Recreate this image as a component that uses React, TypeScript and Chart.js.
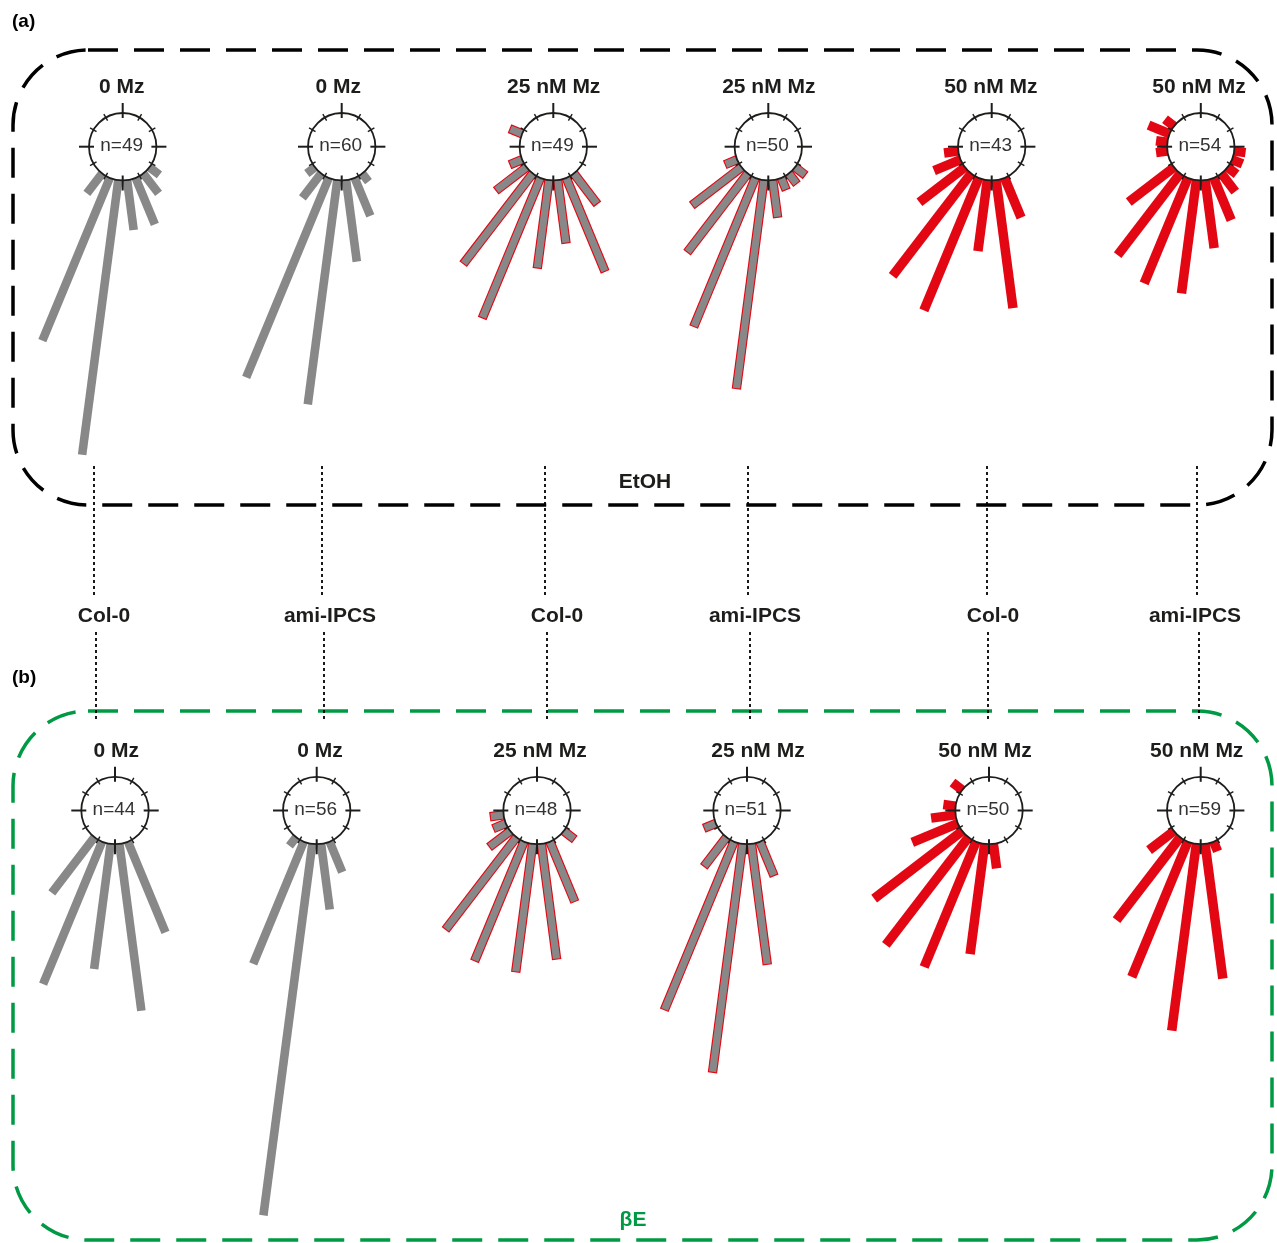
import React, { useEffect, useRef } from "react";
import { Chart, registerables } from "chart.js";

Chart.register(...registerables);

const W = 1277;
const H = 1243;

// ---------------- data ----------------
const panelTitles = ["0 Mz", "0 Mz", "25 nM Mz", "25 nM Mz", "50 nM Mz", "50 nM Mz"];
const genotypeLabels = ["Col-0", "ami-IPCS", "Col-0", "ami-IPCS", "Col-0", "ami-IPCS"];
const treatmentLabels = ["EtOH", "βE"];
const panelLetters = ["(a)", "(b)"];
const nEtOH = [49, 60, 49, 50, 43, 54];
const nBetaE = [44, 56, 48, 51, 50, 59];

// bin centres in degrees from the gravity vector (0 = straight down, negative = left, positive = right)
// EtOH row
const anglesE1 = [-37.5, -22.5, -7.5, 7.5, 22.5, 37.5, 52.5];
const countsE1 = [2, 14, 22, 4, 4, 2, 1];
const anglesE2 = [-52.5, -37.5, -22.5, -7.5, 7.5, 22.5, 37.5];
const countsE2 = [1, 3, 21, 22, 8, 4, 1];
const anglesE3 = [-112.5, -67.5, -52.5, -37.5, -22.5, -7.5, 7.5, 22.5, 37.5];
const countsE3 = [1, 1, 3, 9, 12, 7, 5, 8, 3];
const anglesE4 = [-67.5, -52.5, -37.5, -22.5, -7.5, 7.5, 22.5, 37.5, 52.5];
const countsE4 = [1, 5, 8, 13, 17, 3, 1, 1, 1];
const anglesE5 = [-82.5, -67.5, -52.5, -37.5, -22.5, -7.5, 7.5, 22.5];
const countsE5 = [1, 2, 4, 9, 10, 5, 9, 3];
const anglesE6 = [-127.5, -112.5, -97.5, -82.5, -52.5, -37.5, -22.5, -7.5, 7.5, 22.5, 37.5, 52.5, 67.5, 82.5];
const countsE6 = [1, 2, 1, 1, 5, 9, 10, 10, 6, 4, 2, 1, 1, 1];
// βE row
const anglesB1 = [-37.5, -22.5, -7.5, 7.5, 22.5];
const countsB1 = [5, 11, 9, 12, 7];
const anglesB2 = [-37.5, -22.5, -7.5, 7.5, 22.5];
const countsB2 = [1, 12, 34, 6, 3];
const anglesB3 = [-82.5, -67.5, -52.5, -37.5, -22.5, -7.5, 7.5, 22.5, 52.5];
const countsB3 = [1, 1, 2, 9, 10, 10, 9, 5, 1];
const anglesB4 = [-67.5, -37.5, -22.5, -7.5, 7.5, 22.5];
const countsB4 = [1, 3, 15, 19, 10, 3];
const anglesB5 = [-127.5, -97.5, -82.5, -67.5, -52.5, -37.5, -22.5, -7.5, 7.5];
const countsB5 = [1, 1, 2, 4, 9, 11, 11, 9, 2];
const anglesB6 = [-52.5, -37.5, -22.5, -7.5, 7.5, 22.5];
const countsB6 = [3, 10, 14, 18, 13, 1];

const rowAngles = [
  [anglesE1, anglesE2, anglesE3, anglesE4, anglesE5, anglesE6],
  [anglesB1, anglesB2, anglesB3, anglesB4, anglesB5, anglesB6],
];
const rowCounts = [
  [countsE1, countsE2, countsE3, countsE4, countsE5, countsE6],
  [countsB1, countsB2, countsB3, countsB4, countsB5, countsB6],
];
const rowN = [nEtOH, nBetaE];
const tickAngles = [0, 30, 60, 90, 120, 150, 180, 210, 240, 270, 300, 330];

// ---------------- layout / style ----------------
const centreY = [146.7, 810.5];
const centreX = [
  [122.7, 341.7, 553.3, 768.3, 991.7, 1200.8],
  [115, 316.7, 537, 747, 989, 1200.7],
];
const titleX = [
  [121.7, 338.3, 553.7, 768.8, 990.8, 1199],
  [116.2, 320, 540, 758, 985, 1196.7],
];
const titleBaseY = [92.5, 757];
const R = 33.7;
const PX_PER_PCT = 6.17;
const GRAY = "#888888";
const RED = "#e30613";
const GREEN = "#009a44";
const INK = "#1d1d1b";
const colStyle = ["gray", "gray", "outline", "outline", "red", "red"];
const FONT = '"Liberation Sans", Arial, Helvetica, sans-serif';

const genoX = [104, 330, 557, 755, 993, 1195];
const genoBaseY = 621.5;
const dotTopX = [94, 322, 545, 748, 987, 1197];
const dotBotX = [96, 324, 547, 750, 988, 1199];

const boxes = [
  { x0: 13, y0: 50, x1: 1272, y1: 505, color: "#000000", label: { x: 645, y: 487.5 } },
  { x0: 13, y0: 711, x1: 1272, y1: 1240, color: GREEN, label: { x: 633, y: 1225.5 } },
];

function polar(cx: number, cy: number, angDeg: number, r: number) {
  const a = (angDeg * Math.PI) / 180;
  return { x: cx + r * Math.sin(a), y: cy + r * Math.cos(a) };
}

const decorPlugin = {
  id: "decor",
  beforeDatasetsDraw(chart: any) {
    const ctx = chart.ctx;
    const sx = chart.scales.x;
    const sy = chart.scales.y;
    const X = (v: number) => sx.getPixelForValue(v);
    const Y = (v: number) => sy.getPixelForValue(v);
    ctx.save();
    boxes.forEach((b) => {
      ctx.beginPath();
      ctx.setLineDash([30, 16]);
      ctx.lineWidth = 3.5;
      ctx.strokeStyle = b.color;
      const x0 = X(b.x0), y0 = Y(b.y0), x1 = X(b.x1), y1 = Y(b.y1);
      (ctx as any).roundRect(x0, y0, x1 - x0, y1 - y0, 75);
      ctx.stroke();
    });
    ctx.setLineDash([3, 3]);
    ctx.lineWidth = 1.8;
    ctx.strokeStyle = "#000";
    for (let i = 0; i < 6; i++) {
      ctx.beginPath();
      ctx.moveTo(X(dotTopX[i]), Y(466));
      ctx.lineTo(X(dotTopX[i]), Y(597));
      ctx.stroke();
      ctx.beginPath();
      ctx.moveTo(X(dotBotX[i]), Y(632));
      ctx.lineTo(X(dotBotX[i]), Y(722));
      ctx.stroke();
    }
    ctx.restore();
  },
  afterDatasetsDraw(chart: any) {
    const ctx = chart.ctx;
    const sx = chart.scales.x;
    const sy = chart.scales.y;
    const X = (v: number) => sx.getPixelForValue(v);
    const Y = (v: number) => sy.getPixelForValue(v);
    ctx.save();
    ctx.textAlign = "center";
    ctx.textBaseline = "alphabetic";
    for (let row = 0; row < 2; row++) {
      for (let c = 0; c < 6; c++) {
        ctx.fillStyle = INK;
        ctx.font = `bold 21px ${FONT}`;
        ctx.fillText(panelTitles[c], X(titleX[row][c]), Y(titleBaseY[row]));
        ctx.fillStyle = "#333333";
        ctx.font = `19px ${FONT}`;
        ctx.fillText("n=" + rowN[row][c], X(centreX[row][c] - 1), Y(centreY[row] + 4));
      }
    }
    ctx.fillStyle = INK;
    ctx.font = `bold 21px ${FONT}`;
    for (let c = 0; c < 6; c++) {
      ctx.fillText(genotypeLabels[c], X(genoX[c]), Y(genoBaseY));
    }
    boxes.forEach((b, i) => {
      ctx.fillStyle = i === 0 ? INK : GREEN;
      ctx.fillText(treatmentLabels[i], X(b.label.x), Y(b.label.y));
    });
    ctx.textAlign = "left";
    ctx.fillStyle = "#000";
    ctx.font = `bold 19px ${FONT}`;
    ctx.fillText(panelLetters[0], X(12), Y(27));
    ctx.fillText(panelLetters[1], X(12), Y(683));
    ctx.restore();
  },
};

export default function App() {
  const ref = useRef<HTMLCanvasElement>(null);
  useEffect(() => {
    const canvas = ref.current;
    if (!canvas) return;
    const datasets: any[] = [];
    let ord = 0;
    const pushLine = (pts: { x: number; y: number }[], color: string, width: number) => {
      datasets.push({
        data: pts,
        showLine: true,
        borderColor: color,
        backgroundColor: color,
        borderWidth: width,
        borderCapStyle: "butt",
        pointRadius: 0,
        pointHoverRadius: 0,
        fill: false,
        clip: false,
        order: -ord++,
      });
    };

    for (let row = 0; row < 2; row++) {
      for (let c = 0; c < 6; c++) {
        const cx = centreX[row][c];
        const cy = centreY[row];
        const angs = rowAngles[row][c];
        const cnts = rowCounts[row][c];
        const n = rowN[row][c];
        angs.forEach((a, i) => {
          const pct = (cnts[i] / n) * 100;
          const len = pct * PX_PER_PCT;
          const p0 = polar(cx, cy, a, R);
          const p1 = polar(cx, cy, a, R + len);
          const style = colStyle[c];
          if (style === "outline") {
            const p1o = polar(cx, cy, a, R + len + 1.1);
            pushLine([p0, p1o], RED, 9.4);
            pushLine([p0, p1], GRAY, 7.2);
          } else if (style === "red") {
            pushLine([p0, p1], RED, 9.5);
          } else {
            pushLine([p0, p1], GRAY, 8.6);
          }
        });
        tickAngles.forEach((t) => {
          const major = t % 90 === 0;
          const pa = polar(cx, cy, t, major ? R - 5 : R - 3.5);
          const pb = polar(cx, cy, t, major ? R + 10 : R + 4);
          pushLine([pa, pb], INK, major ? 2 : 1.4);
        });
        datasets.push({
          data: [{ x: cx, y: cy }],
          showLine: false,
          pointRadius: R,
          pointHoverRadius: R,
          pointBorderWidth: 1.8,
          pointBorderColor: INK,
          pointBackgroundColor: "rgba(255,255,255,0)",
          clip: false,
          order: -ord++,
        });
      }
    }

    const chart = new Chart(canvas, {
      type: "scatter",
      data: { datasets },
      options: {
        animation: false,
        responsive: false,
        events: [],
        layout: { padding: 0, autoPadding: false },
        plugins: { legend: { display: false }, tooltip: { enabled: false } },
        scales: {
          x: { type: "linear", min: 0, max: W, display: false, grace: 0 },
          y: { type: "linear", min: 0, max: H, reverse: true, display: false, grace: 0 },
        },
      },
      plugins: [decorPlugin],
    } as any);
    return () => chart.destroy();
  }, []);

  return (
    <div style={{ position: "fixed", left: 0, top: 0, width: W, height: H, background: "#fff" }}>
      <canvas ref={ref} width={W} height={H} style={{ display: "block", width: W, height: H }} />
    </div>
  );
}
